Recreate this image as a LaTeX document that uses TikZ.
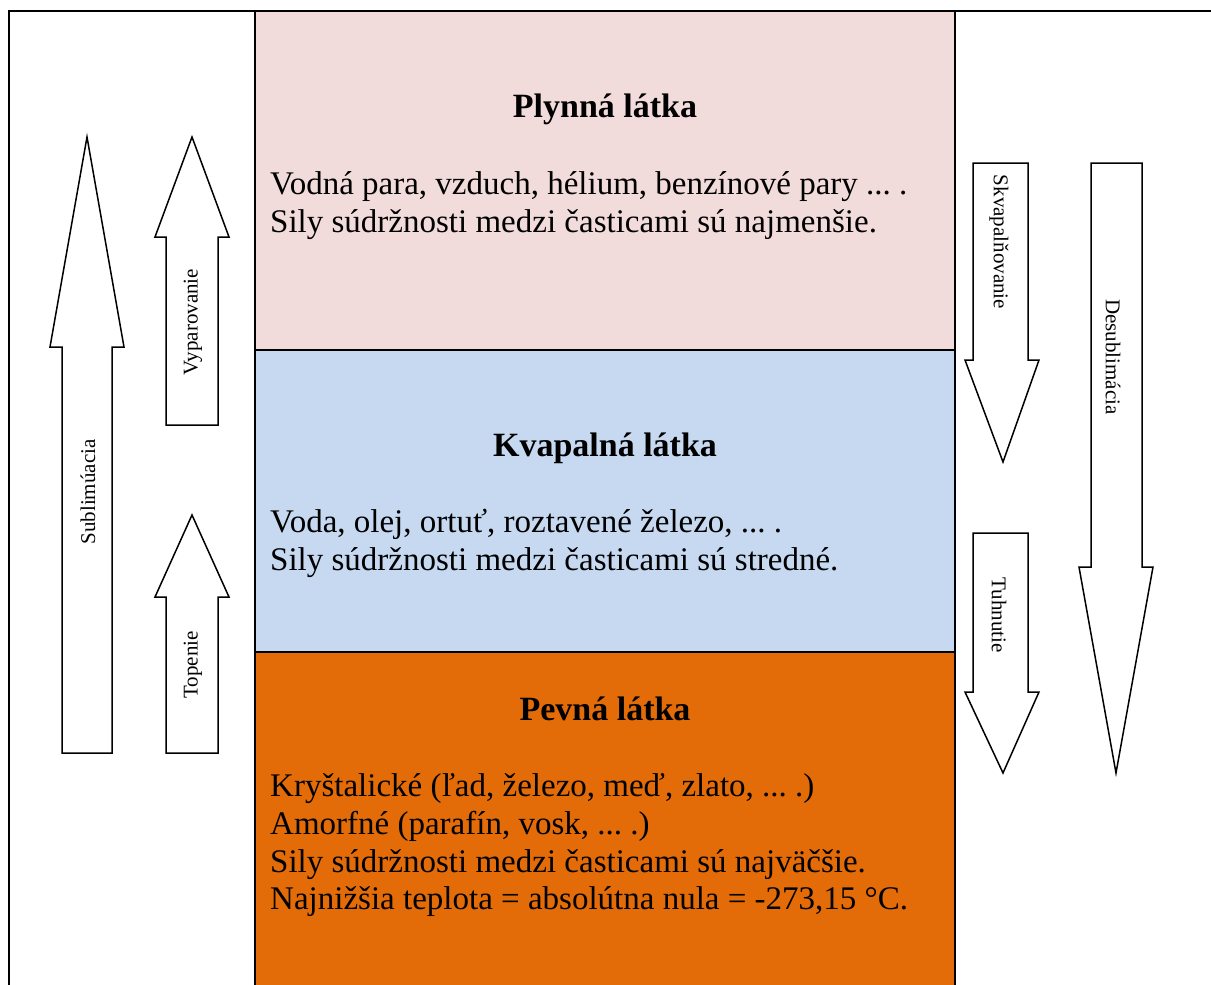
\documentclass[tikz,border=0pt]{standalone}
\usepackage{fontspec}
\setmainfont{Liberation Serif}
\frenchspacing
\definecolor{gaspink}{HTML}{F2DCDB}
\definecolor{liqblue}{HTML}{C6D9F1}
\definecolor{solorange}{HTML}{E36C09}
\tikzset{
  frameline/.style={line width=2pt, black},
  sepline/.style={line width=1.5pt, black},
  bigarrow/.style={draw=black, fill=white, line width=1.5pt, line join=miter},
  arrlabel/.style={font=\fontsize{21}{24}\selectfont, inner sep=0pt},
  heading/.style={font=\fontsize{34}{38}\selectfont\bfseries, inner sep=0pt, anchor=base},
  bodyline/.style={font=\fontsize{33}{38}\selectfont, inner sep=0pt, anchor=base west}
}
\begin{document}
\begin{tikzpicture}[x=1pt,y=-1pt]
\useasboundingbox (0,0) rectangle (1211,985);
% fills
\fill[gaspink] (255,11) rectangle (955,350);
\fill[liqblue] (255,350) rectangle (955,652);
\fill[solorange] (255,652) rectangle (955,985);
% frame
\draw[frameline] (9,985) -- (9,11) -- (1211,11);
\draw[frameline] (255,11) -- (255,985);
\draw[frameline] (955,11) -- (955,985);
\draw[sepline] (255,350) -- (955,350);
\draw[sepline] (255,652) -- (955,652);
% headings
\node[heading] (hgas) at (605,117) {Plynná látka};
\node[heading] (hliq) at (605,456) {Kvapalná látka};
\node[heading] (hsol) at (605,720) {Pevná látka};
% body text
\node[bodyline] (g1) at (270,194) {Vodná para, vzduch, hélium, benzínové pary ... .};
\node[bodyline] (g2) at (270,232) {Sily súdržnosti medzi časticami sú najmenšie.};
\node[bodyline] (l1) at (270,532) {Voda, olej, ortuť, roztavené železo, ... .};
\node[bodyline] (l2) at (270,570) {Sily súdržnosti medzi časticami sú stredné.};
\node[bodyline] (s1) at (270,796) {Kryštalické (ľad, železo, meď, zlato, ... .)};
\node[bodyline] (s2) at (270,834) {Amorfné (parafín, vosk, ... .)};
\node[bodyline] (s3) at (270,872) {Sily súdržnosti medzi časticami sú najväčšie.};
\node[bodyline] (s4) at (270,909) {Najnižšia teplota = absolútna nula = -273,15 °C.};
% left arrows (up)
\draw[bigarrow] (62,753) -- (62,347) -- (50,347) -- (87,137) -- (124,347) -- (112,347) -- (112,753) -- cycle;
\draw[bigarrow] (166,425) -- (166,237) -- (155,237) -- (192,137) -- (229,237) -- (218,237) -- (218,425) -- cycle;
\draw[bigarrow] (166,753) -- (166,597) -- (155,597) -- (192,515) -- (229,597) -- (218,597) -- (218,753) -- cycle;
% right arrows (down)
\draw[bigarrow] (973,163) -- (973,360) -- (965,360) -- (1003,462) -- (1039,360) -- (1028,360) -- (1028,163) -- cycle;
\draw[bigarrow] (973,533) -- (973,692) -- (965,692) -- (1003,773) -- (1039,692) -- (1028,692) -- (1028,533) -- cycle;
\draw[bigarrow] (1091,163) -- (1091,567) -- (1079,567) -- (1116,773) -- (1153,567) -- (1142,567) -- (1142,163) -- cycle;
% arrow labels
\node[arrlabel, rotate=90] (lsub) at (88,492) {Sublimúacia};
\node[arrlabel, rotate=90] (lvyp) at (193,322) {Vyparovanie};
\node[arrlabel, rotate=90] (ltop) at (193,665) {Topenie};
\node[arrlabel, rotate=-90] (lskv) at (999,242) {Skvapalňovanie};
\node[arrlabel, rotate=-90] (ltuh) at (999,615) {Tuhnutie};
\node[arrlabel, rotate=-90] (ldes) at (1113,357) {Desublimácia};
\end{tikzpicture}
\end{document}
